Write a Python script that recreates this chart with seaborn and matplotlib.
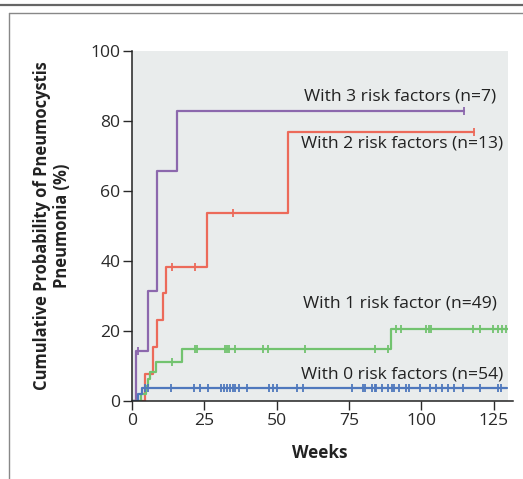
import matplotlib
matplotlib.use("Agg")
import matplotlib.pyplot as plt
import seaborn as sns
import numpy as np
import pandas as pd
from matplotlib.lines import Line2D

# Kaplan-Meier steps (weeks, cumulative %)
t3 = [0, 1.3, 5.6, 8.5, 15.6, 114.7]
p3 = [0, 14.3, 31.4, 65.7, 82.9, 82.9]
c3 = [2.0, 114.7]

t2 = [0, 4.5, 7.4, 8.5, 10.8, 11.6, 25.8, 54.0, 118.4]
p2 = [0, 7.7, 15.4, 23.1, 30.8, 38.3, 53.7, 76.7, 76.7]
c2 = [13.7, 21.8, 35.0, 118.4]

t1 = [0, 3.0, 4.8, 5.5, 6.2, 8.3, 17.3, 89.7, 130]
p1 = [0, 2.0, 4.1, 6.1, 8.2, 11.2, 14.7, 20.5, 20.5]
c1 = [13.7, 21.8, 22.4, 32.0, 32.8, 33.7, 35.6, 45.2, 47.0, 59.7, 83.9, 88.5,
      91.4, 93.1, 101.8, 102.7, 103.5, 117.9, 120.2, 124.8, 126.5, 128.0, 129.4]

t0 = [0, 2.2, 3.5, 129.8]
p0 = [0, 1.9, 3.7, 3.7]
c0 = [4.5, 5.6, 13.5, 21.5, 23.5, 26.4, 30.7, 31.8, 32.7, 33.8, 34.8, 35.6, 37.1,
      39.8, 47.4, 48.6, 50.0, 57.2, 59.2, 75.9, 79.7, 80.7, 83.1, 83.9, 84.5, 86.4,
      88.5, 90.0, 90.6, 92.3, 94.8, 95.8, 99.7, 102.9, 105.2, 107.3, 109.2, 111.3,
      114.4, 120.2, 126.7, 127.7]

labels = ["With 3 risk factors (n=7)", "With 2 risk factors (n=13)",
          "With 1 risk factor (n=49)", "With 0 risk factors (n=54)"]
label_x = [59.5, 58.5, 59.0, 58.5]
label_y = [86.8, 73.6, 27.8, 7.6]
colors = ["#8c68ad", "#ec6a5a", "#72c36f", "#4f78bd"]

sns.set_style("ticks")
plt.rcParams["font.family"] = ["Open Sans", "DejaVu Sans"]

fig = plt.figure(figsize=(5.23, 4.79), dpi=100)
ax = fig.add_axes([132 / 523, 78.3 / 479, 376 / 523, 350 / 479])
ax.set_facecolor("#e9ecec")

groups = [(t3, p3, c3), (t2, p2, c2), (t1, p1, c1), (t0, p0, c0)]
for (t, p, c), col in zip(groups, colors):
    df = pd.DataFrame({"weeks": t, "pct": p})
    sns.lineplot(data=df, x="weeks", y="pct", ax=ax, color=col, lw=1.6,
                 drawstyle="steps-post", estimator=None, sort=False)
    idx = np.searchsorted(t, c, side="right") - 1
    cdf = pd.DataFrame({"weeks": c, "pct": np.array(p)[idx]})
    sns.scatterplot(data=cdf, x="weeks", y="pct", ax=ax, color=col,
                    marker="|", s=32, linewidth=1.3, zorder=3)

for lab, x, y in zip(labels, label_x, label_y):
    ax.text(x, y, lab, fontsize=12.6, color="#222222", va="center", ha="left")

ax.set_xlim(0, 130)
ax.set_ylim(0, 100)
ax.set_xticks([0, 25, 50, 75, 100, 125])
ax.set_yticks([0, 20, 40, 60, 80, 100])
ax.tick_params(length=6.5, width=1, labelsize=12.6, colors="#2a2a2a", pad=2)
for s in ["top", "right"]:
    ax.spines[s].set_visible(False)
for s in ["left", "bottom"]:
    ax.spines[s].set_linewidth(1.1)
    ax.spines[s].set_color("#222222")
ax.spines["bottom"].set_bounds(0, 131.8)

ax.set_xlabel("Weeks", fontsize=12.3, fontweight="bold", color="#222222")
ax.set_ylabel("Cumulative Probability of Pneumocystis\nPneumonia (%)",
              fontsize=11.9, fontweight="bold", color="#222222", linespacing=1.1)
ax.xaxis.set_label_coords(0.5, -0.123)
ax.yaxis.set_label_coords(-0.163, 0.5)

# frame lines of the figure panel
fig.add_artist(Line2D([0, 1], [1 - 5 / 479, 1 - 5 / 479], color="#666666", lw=1.6))
fig.add_artist(Line2D([9 / 523, 1], [1 - 13 / 479, 1 - 13 / 479], color="#888888", lw=1.0))
fig.add_artist(Line2D([9 / 523, 9 / 523], [0, 1 - 13 / 479], color="#888888", lw=1.0))

fig.savefig("out.png", dpi=100)
